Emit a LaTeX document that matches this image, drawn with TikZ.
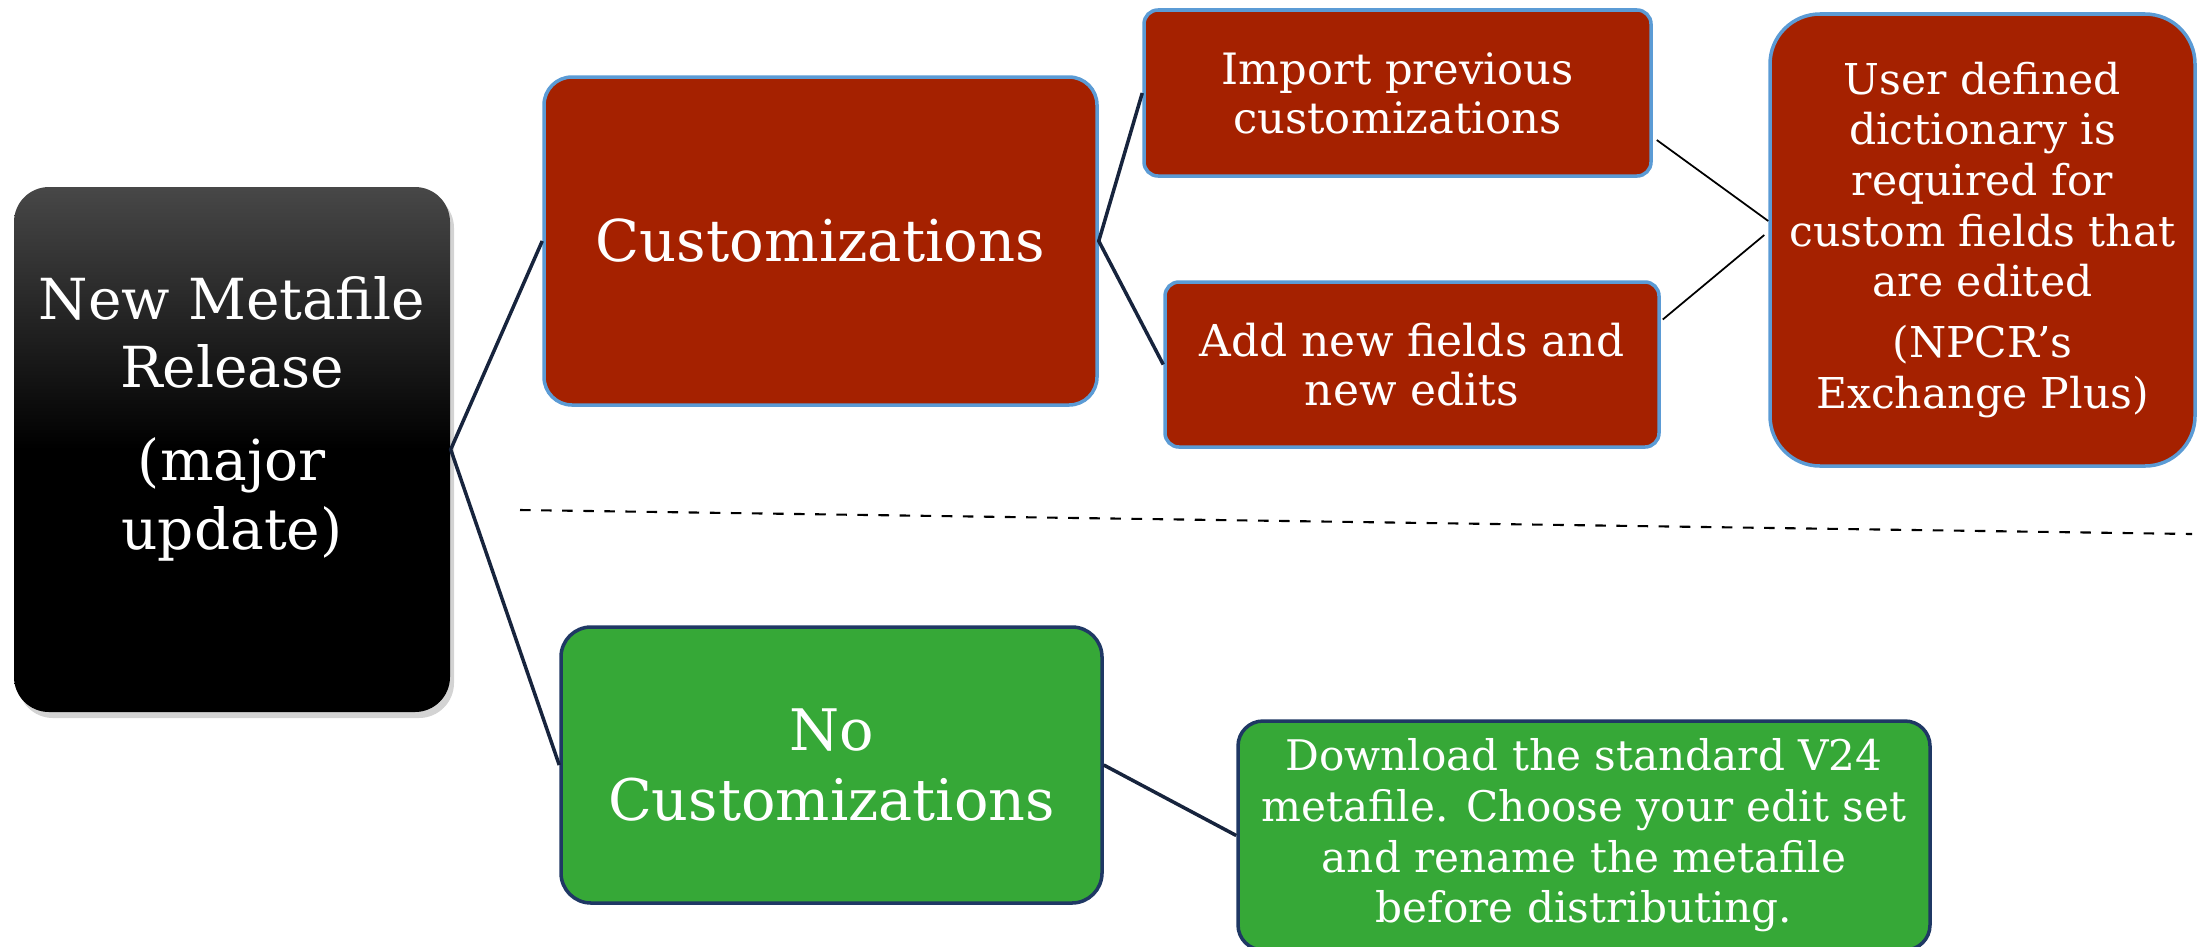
\documentclass[tikz,border=0pt]{standalone}
\usepackage{fontspec}
\setmainfont{DejaVu Serif}
\usetikzlibrary{shadows}
\definecolor{rustred}{HTML}{A52100}
\definecolor{skyedge}{HTML}{5B9BD5}
\definecolor{leafgreen}{HTML}{36A837}
\definecolor{navyedge}{HTML}{1F3864}
\definecolor{navyline}{HTML}{17243D}
\tikzset{
  redbox/.style={draw=skyedge, line width=1pt, fill=rustred, text=white, align=center, inner sep=0pt},
  greenbox/.style={draw=navyedge, line width=1pt, fill=leafgreen, text=white, align=center, inner sep=0pt},
  branch/.style={navyline, line width=1pt},
  twig/.style={black, line width=0.5pt}
}
\begin{document}
\begin{tikzpicture}
\useasboundingbox (0,0) rectangle (22.03,-9.46);
% left block
\node[rounded corners=0.35cm, minimum width=4.36cm, minimum height=5.25cm,
  top color=black!72, bottom color=black, middle color=black,
  drop shadow={opacity=0.35, shadow xshift=0.04cm, shadow yshift=-0.06cm}] (rel) at (2.32,-4.495) {};
\node[text=white, align=center, font={\fontsize{16.1}{19.5}\selectfont}] (reltext) at ([yshift=0.31cm]rel.center)
  {New Metafile\\Release\\[7pt](major\\update)};
% with customizations
\node[redbox, rounded corners=0.28cm, minimum width=5.53cm, minimum height=3.28cm,
  font={\fontsize{16.4}{19}\selectfont}] (cust) at (8.205,-2.41) {Customizations};
\node[redbox, rounded corners=0.14cm, minimum width=5.07cm, minimum height=1.66cm,
  font={\fontsize{12.3}{14}\selectfont}] (imp) at (13.975,-0.93) {Import previous\\customizations};
\node[redbox, rounded corners=0.14cm, minimum width=4.94cm, minimum height=1.65cm,
  font={\fontsize{12.5}{14}\selectfont}] (addf) at (14.12,-3.645) {Add new fields and\\new edits};
\node[redbox, rounded corners=0.5cm, minimum width=4.25cm, minimum height=4.52cm,
  font={\fontsize{12.1}{14.4}\selectfont}] (udd) at (19.825,-2.40)
  {User defined\\dictionary is\\required for\\custom fields that\\are edited\\[3pt](NPCR’s\\Exchange Plus)};
% without customizations
\node[greenbox, rounded corners=0.3cm, minimum width=5.41cm, minimum height=2.76cm,
  font={\fontsize{16.3}{20}\selectfont}] (nocust) at (8.315,-7.65) {No\\Customizations};
\node[greenbox, rounded corners=0.25cm, minimum width=6.92cm, minimum height=2.29cm,
  font={\fontsize{12}{14.4}\selectfont}] (dl) at (15.84,-8.355)
  {Download the standard V24\\metafile. Choose your edit set\\and rename the metafile\\before distributing.};
% connectors
\draw[branch] (cust.west) -- (rel.east) -- (nocust.west);
\draw[branch] (imp.west) -- (cust.east) -- (addf.west);
\draw[branch] (nocust.east) -- (dl.west);
\draw[twig] ([shift={(0.04,-0.47)}]imp.east) -- ([yshift=0.19cm]udd.west);
\draw[twig] ([shift={(0.02,0.45)}]addf.east) -- ([shift={(-0.04,0.05)}]udd.west);
% divider
\coordinate (splitL) at (5.20,-5.10);
\coordinate (splitR) at (21.92,-5.34);
\draw[dashed, line width=0.6pt] (splitL) -- (splitR);
\end{tikzpicture}
\end{document}
